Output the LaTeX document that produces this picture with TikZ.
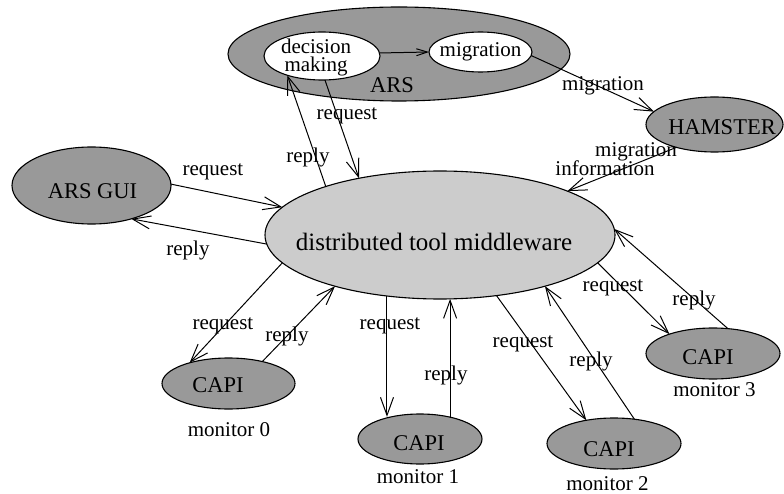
\documentclass[tikz,border=0pt]{standalone}
\usepackage{fontspec}
\setmainfont{Liberation Serif}
\usetikzlibrary{shapes.geometric,arrows.meta}
\definecolor{darkfill}{RGB}{153,153,153}
\definecolor{lightfill}{RGB}{204,204,204}
\begin{document}
\begin{tikzpicture}[x=1pt,y=-1pt,
  ell/.style={ellipse, draw, line width=1.1pt, inner sep=0pt, outer sep=0pt},
  darkell/.style={ell, fill=darkfill},
  innerell/.style={ell, fill=white},
  lightell/.style={ell, fill=lightfill},
  lbl/.style={font=\fontsize{21}{25}\selectfont, inner sep=0pt},
  ntxt/.style={font=\fontsize{22.5}{27}\selectfont, inner sep=0pt},
  bigtxt/.style={font=\fontsize{25}{30}\selectfont, inner sep=0pt},
  arr/.style={line width=1pt, -{Straight Barb[length=18pt,width=13pt,line width=1pt]}},
  arrsmall/.style={line width=1pt, -{Straight Barb[length=11pt,width=7pt,line width=1pt]}},
]
\useasboundingbox (0,0) rectangle (784,494);

% ARS group
\node[darkell, minimum width=342, minimum height=94] (ars) at (399,54) {};
\node[ntxt] (arst) at (392,85) {ARS};
\node[innerell, minimum width=116, minimum height=48] (dm) at (322,56) {};
\node[lbl, align=center, font=\fontsize{21}{17.5}\selectfont] (dmt) at (316,57.5) {decision\\making};
\node[innerell, minimum width=103, minimum height=40] (mig) at (480.5,52) {};
\node[lbl] (migt) at (mig) {migration};

% HAMSTER
\node[darkell, minimum width=137, minimum height=55] (ham) at (714.5,124.5) {};
\node[ntxt] (hamt) at (722,127) {HAMSTER};

% ARS GUI
\node[darkell, minimum width=159, minimum height=77] (gui) at (91.5,185.5) {};
\node[ntxt] (guit) at (92.5,191) {ARS GUI};

% middleware
\node[lightell, minimum width=350, minimum height=128] (mw) at (440,235) {};
\node[bigtxt] (mwt) at (434,242) {distributed tool middleware};

% CAPI nodes
\node[darkell, minimum width=133, minimum height=51] (c0) at (228.5,383.5) {};
\node[ntxt] (c0t) at (218,385) {CAPI};
\node[lbl] (m0) at (229,430) {monitor 0};

\node[darkell, minimum width=124, minimum height=50] (c1) at (420,439) {};
\node[ntxt] (c1t) at (419,443) {CAPI};
\node[lbl] (m1) at (418,477) {monitor 1};

\node[darkell, minimum width=134, minimum height=51] (c2) at (614,443.5) {};
\node[ntxt] (c2t) at (609,449) {CAPI};
\node[lbl] (m2) at (607.5,484) {monitor 2};

\node[darkell, minimum width=134, minimum height=51] (c3) at (713,353.5) {};
\node[ntxt] (c3t) at (708,357) {CAPI};
\node[lbl] (m3) at (714.5,390) {monitor 3};

% connectors
\draw[arr] (gui.1.5) -- (mw.170.6);
\draw[arr] (mw.183.6) -- (gui.-40);
\draw[arr] (mw.157.1) -- (dm.-151.6);
\draw[arr] (dm.-83) -- (mw.145);
\draw[arrsmall] (dm.3) -- (mig.180);
\draw[arr] (mig.-4) -- (ham.168.7);
\draw[arr] (ham.211) -- (mw.19.4);
\draw[arr] (c3.59) -- (mw.2.6);
\draw[arr] (mw.-10.8) -- (c3.156.8);
\draw[arr] (mw.-47.9) -- (c2.140);
\draw[arr] (c2.50) -- (mw.-26.1);
\draw[arr] (mw.229.6) -- (mw.229.6 |- c1.142);
\draw[arr] (c1.36) -- (c1.36 |- mw.-81);
\draw[arr] (mw.190.7) -- (c0.152.3);
\draw[arr] (c0.33.3) -- (mw.206.6);

% labels
\node[lbl] (l1) at (213,172) {request};
\node[lbl] (l2) at (188,250) {reply};
\node[lbl] (l3) at (308,157) {reply};
\node[lbl] (l4) at (347,116) {request};
\node[lbl] (l5) at (603,86) {migration};
\node[lbl] (l6) at (636,152) {migration};
\node[lbl] (l7) at (605,168) {information};
\node[lbl] (l8) at (694,300) {reply};
\node[lbl] (l9) at (613,288) {request};
\node[lbl] (l10) at (523,344) {request};
\node[lbl] (l11) at (591,361) {reply};
\node[lbl] (l12) at (390,326) {request};
\node[lbl] (l13) at (446,375) {reply};
\node[lbl] (l14) at (223,326) {request};
\node[lbl] (l15) at (287,336) {reply};
\end{tikzpicture}
\end{document}
